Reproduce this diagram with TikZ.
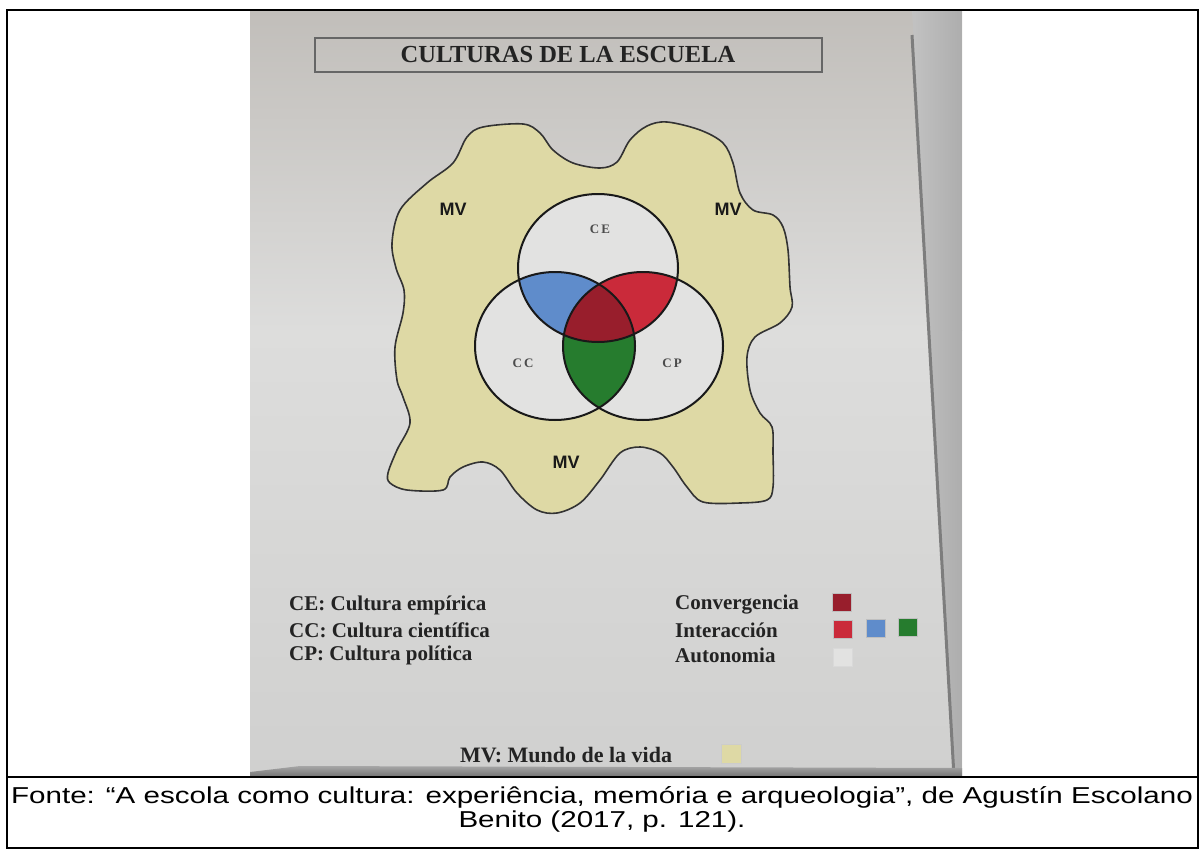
\documentclass[tikz,border=0pt]{standalone}
\usepackage{fontspec}
\setmainfont{Liberation Serif}
\newfontfamily\capfont[FakeStretch=1.285]{Liberation Sans}
\newfontfamily\mvfont{Liberation Sans}
\definecolor{paperA}{RGB}{193,190,186}
\definecolor{paperB}{RGB}{221,221,220}
\definecolor{paperC}{RGB}{208,208,207}
\definecolor{blobfill}{RGB}{222,217,165}
\definecolor{circfill}{RGB}{226,226,225}
\definecolor{blueR}{RGB}{95,140,203}
\definecolor{redR}{RGB}{202,42,58}
\definecolor{darkR}{RGB}{152,30,44}
\definecolor{greenR}{RGB}{38,124,46}
\definecolor{inkC}{RGB}{35,35,35}
\definecolor{edgeC}{RGB}{125,125,125}
\tikzset{
  venn/.style={line width=2pt, draw=black!90},
  blobline/.style={line width=1.6pt, draw=black!80, fill=blobfill},
  legtext/.style={anchor=west, inner sep=0pt, text=inkC, font=\fontsize{21}{24}\selectfont\bfseries},
  swatch/.style={minimum width=19pt, minimum height=18pt, inner sep=0pt, draw=black!25, line width=0.4pt},
  mvlabel/.style={inner sep=0pt, text=black!90, font=\mvfont\fontsize{18}{20}\selectfont\bfseries},
  smalllab/.style={inner sep=0pt, text=black!70, font=\fontsize{13}{14}\selectfont\bfseries},
  capstyle/.style={inner sep=0pt, text=black, font=\capfont\fontsize{23}{26}\selectfont}
}
\begin{document}
\begin{tikzpicture}[x=1pt,y=-1pt]
\useasboundingbox (0,0) rectangle (1204,851);
\fill[white] (0,0) rectangle (1204,851);
% photo background
\shade[top color=paperA, bottom color=paperB] (250,10) rectangle (962,330);
\shade[top color=paperB, bottom color=paperC] (250,330) rectangle (962,777);
% right page edge
\shade[left color=black!24, right color=black!32] (912,10) -- (962,10) -- (962,777) -- (954,777) -- cycle;
\draw[line width=3pt, edgeC] (912,35) -- (954,777);
% bottom shadow
\shade[top color=black!35, bottom color=black!55] (250,777) -- (250,772) -- (300,766) -- (962,768) -- (962,777) -- cycle;
% title
\draw[line width=1.3pt, black!60] (315,38) rectangle (822,72);
\node[inner sep=0pt, text=inkC, font=\fontsize{24.5}{26}\selectfont\bfseries] (title) at (568,55) {CULTURAS DE LA ESCUELA};
% MV blob
\draw[blobline] plot[smooth cycle, tension=0.55] coordinates {
(392,243) (400,210) (427,183) (453,163) (467,137) (483,127) (523,124) (540,133)
(553,150) (573,163) (600,168) (617,162) (630,140) (647,126) (667,122) (700,130)
(723,143) (733,163) (740,193) (753,210) (773,215) (783,227) (788,250) (790,287)
(792,307) (780,323) (755,337) (747,357) (750,390) (760,413) (772,427) (773,453)
(773,487) (767,500) (740,503) (703,502) (687,487) (673,467) (660,453) (640,447)
(620,453) (600,480) (580,503) (557,513) (537,510) (517,493) (500,470) (483,462)
(463,467) (450,477) (443,490) (407,490) (390,483) (388,473) (397,450) (410,423)
(403,397) (397,380) (395,347) (403,313) (404,290) (396,268)};
% Venn
\coordinate (ce) at (598,268);
\coordinate (cc) at (555,346);
\coordinate (cp) at (643,346);
\fill[circfill] (ce) ellipse [x radius=80pt, y radius=74pt];
\fill[circfill] (cc) ellipse [x radius=80pt, y radius=74pt];
\fill[circfill] (cp) ellipse [x radius=80pt, y radius=74pt];
\begin{scope}
  \clip (ce) ellipse [x radius=80pt, y radius=74pt];
  \fill[blueR] (cc) ellipse [x radius=80pt, y radius=74pt];
  \fill[redR] (cp) ellipse [x radius=80pt, y radius=74pt];
\end{scope}
\begin{scope}
  \clip (cc) ellipse [x radius=80pt, y radius=74pt];
  \fill[greenR] (cp) ellipse [x radius=80pt, y radius=74pt];
  \clip (cp) ellipse [x radius=80pt, y radius=74pt];
  \fill[darkR] (ce) ellipse [x radius=80pt, y radius=74pt];
\end{scope}
\draw[venn] (ce) ellipse [x radius=80pt, y radius=74pt];
\draw[venn] (cc) ellipse [x radius=80pt, y radius=74pt];
\draw[venn] (cp) ellipse [x radius=80pt, y radius=74pt];
\node[smalllab] (lce) at (600,229) {C\,E};
\node[smalllab] (lcc) at (523,363) {C\,C};
\node[smalllab] (lcp) at (672,363) {C\,P};
\node[mvlabel] (mv1) at (453,209) {MV};
\node[mvlabel] (mv2) at (728,209) {MV};
\node[mvlabel] (mv3) at (566,462) {MV};
% legends
\node[legtext] (l1) at (289,605) {CE: Cultura empírica};
\node[legtext] (l2) at (289,630) {CC: Cultura científica};
\node[legtext] (l3) at (289,655) {CP: Cultura política};
\node[legtext] (r1) at (675,605) {Convergencia};
\node[legtext] (r2) at (675,630) {Interacción};
\node[legtext] (r3) at (675,655) {Autonomia};
\node[swatch, fill=darkR] (s1) at (842,602) {};
\node[swatch, fill=redR] (s2) at (843,629) {};
\node[swatch, fill=blueR] (s3) at (876,628) {};
\node[swatch, fill=greenR] (s4) at (908,627) {};
\node[swatch, fill=circfill, draw=black!15] (s5) at (843,657) {};
\node[legtext, font=\fontsize{22}{24}\selectfont\bfseries] (mvl) at (460,755) {MV: Mundo de la vida};
\node[swatch, fill=blobfill, draw=black!20, minimum width=20pt, minimum height=19pt] (s6) at (731,754) {};
% frame
\draw[line width=2pt] (7,10) rectangle (1198,848);
\draw[line width=2pt] (7,777) -- (1198,777);
% caption
\node[capstyle] (cap1) at (602,797) {Fonte: “A escola como cultura: experiência, memória e arqueologia”, de Agustín Escolano};
\node[capstyle] (cap2) at (602,822) {Benito (2017, p. 121).};
\end{tikzpicture}
\end{document}
